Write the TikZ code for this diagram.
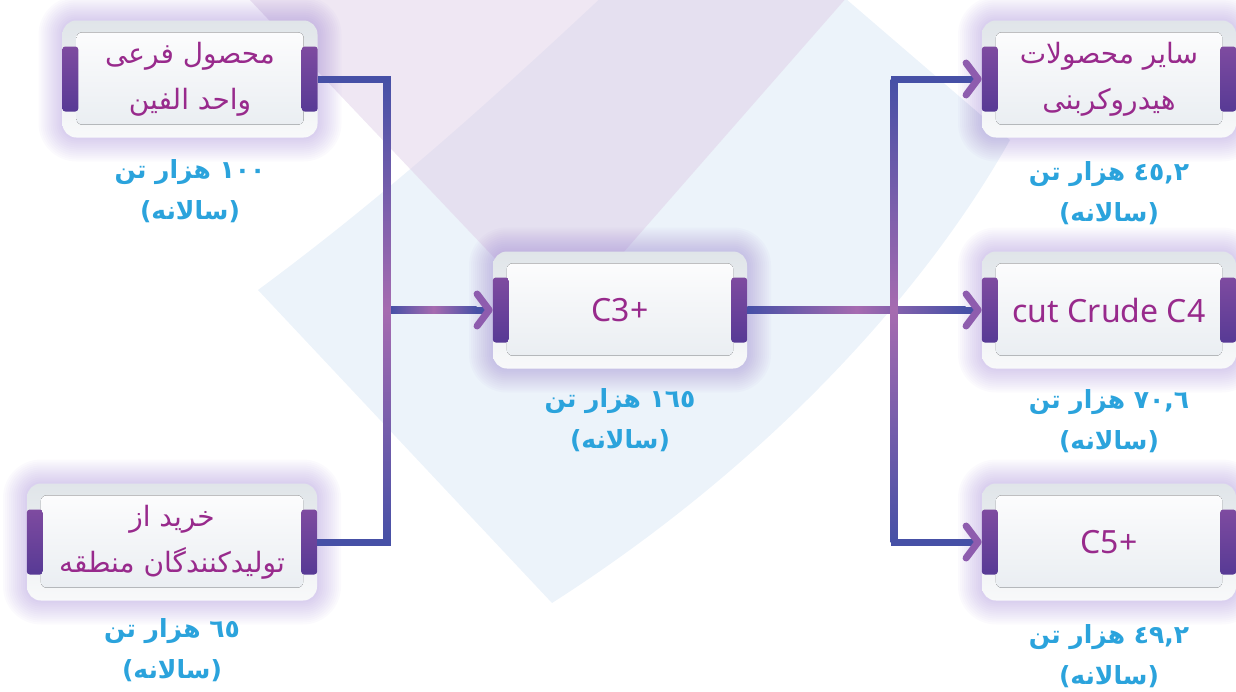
\documentclass[tikz,border=0pt]{standalone}
\usepackage{fontspec}
\setmainfont{Noto Sans}
\newfontfamily\arfont[Script=Arabic]{DejaVu Sans}
\TeXXeTstate=1
\usepackage{tikz}
\usetikzlibrary{calc,positioning,arrows.meta}

\definecolor{flowblue}{HTML}{4650A6}
\definecolor{flowpink}{HTML}{A66BB0}
\definecolor{tipc}{HTML}{8E5CAE}
\definecolor{tabtop}{HTML}{7E4BA0}
\definecolor{tabbot}{HTML}{573A95}
\definecolor{boxink}{HTML}{982A8C}
\definecolor{qtyink}{HTML}{2BA3DC}
\definecolor{glowc}{HTML}{8C6CCC}
\definecolor{bgblue}{HTML}{ECF3FA}
\definecolor{bglav}{HTML}{DFCFE7}
\definecolor{frametop}{HTML}{E0E5E9}
\definecolor{framebot}{HTML}{F8F9FA}
\definecolor{paneltop}{HTML}{FCFCFD}
\definecolor{panelbot}{HTML}{EAEEF2}

\tikzset{
	glow/.style={fill=glowc, opacity=0.032},
	boxframe/.style={rectangle, rounded corners=14pt, top color=frametop, bottom color=framebot, minimum height=117pt, inner sep=0pt},
	panel/.style={rounded corners=6pt, top color=paneltop, bottom color=panelbot},
	tab/.style={rectangle, rounded corners=3pt, top color=tabtop, bottom color=tabbot, minimum width=16pt, minimum height=65pt, inner sep=0pt},
	boxtext/.style={text=boxink, font=\arfont\fontsize{28}{46}\selectfont, align=center, inner sep=0pt},
	latintext/.style={text=boxink, font=\fontsize{32}{38}\selectfont, inner sep=0pt},
	qty/.style={text=qtyink, font=\arfont\bfseries\fontsize{25}{41}\selectfont, align=center, inner sep=0pt},
	flow/.style={draw=flowblue, line width=7pt},
	flowtip/.style={-{Straight Barb[round, length=12pt, width=32pt, color=tipc]}},
}

\newcommand{\procbox}[5]{% name, centre, width, text style, text
	\foreach \g in {2,4,...,24}
		\fill[glow, rounded corners=14pt+\g pt] ($(#2)+(-#3/2-\g,-58.5-\g)$) rectangle ($(#2)+(#3/2+\g,58.5+\g)$);
	\node[boxframe, minimum width=#3pt] (#1) at (#2) {};
	\fill[panel] ($(#1.south west)+(14,-13)$) rectangle ($(#1.north east)+(-14,12)$);
	\node[tab] (#1-l) at ($(#1.west)+(8,0)$) {};
	\node[tab] (#1-r) at ($(#1.east)+(-8,0)$) {};
	\node[#4] (#1-t) at (#1) {#5};
}

\begin{document}
\begin{tikzpicture}[x=1pt,y=-1pt]
	\useasboundingbox (0,0) rectangle (1236,691);
	
	%BACKGROUND
	\fill[bgblue] (258,290) .. controls (400,185) and (520,75) .. (678,-75) -- (760,-75) -- (1010,140) .. controls (920,300) and (760,470) .. (552,603) -- cycle;
	\fill[bglav, opacity=0.5] (231,-20) -- (559,326) -- (862,-20) -- cycle;
	
	%BOXES
	\procbox{A}{190,79}{255}{boxtext}{\beginR محصول فرعی\endR\\\beginR واحد الفین\endR}
	\procbox{B}{172,542}{290}{boxtext}{\beginR خرید از\endR\\\beginR تولیدکنندگان منطقه\endR}
	\procbox{C}{620,310}{254}{latintext}{C3+}
	\procbox{R1}{1109,79}{254}{boxtext}{\beginR سایر محصولات\endR\\\beginR هیدروکربنی\endR}
	\procbox{R2}{1109,310}{254}{latintext}{cut Crude C4}
	\procbox{R3}{1109,542}{254}{latintext}{C5+}
	
	%CONNECTORS
	\coordinate (jl) at (387,310);	%left junction
	\coordinate (jr) at (894,310);	%right junction
	\draw[flow] (A-r.east) -| (jl) |- (B-r.east);
	\draw[flow,flowtip] (jl) -- (C-l.west);
	\draw[flow] (C-r.east) -- (jr);
	\draw[flow,flowtip] (jr) -- (R2-l.west);
	\draw[flow,flowtip] (jr) |- (R1-l.west);
	\draw[flow,flowtip] (jr) |- (R3-l.west);
	%
	\shade[left color=flowblue, right color=flowblue, middle color=flowpink] ($(jl)+(3.5,-3.5)$) rectangle ($(C-l.west)+(-16,3.5)$);
	\shade[left color=flowblue, right color=flowblue, middle color=flowpink] ($(C-r.east)+(0,-3.5)$) rectangle ($(R2-l.west)+(-16,3.5)$);
	\shade[top color=flowblue, bottom color=flowblue, middle color=flowpink] ($(A-r.east -| jl)+(-3.5,0)$) rectangle ($(B-r.east -| jl)+(3.5,0)$);
	\shade[top color=flowblue, bottom color=flowblue, middle color=flowpink] ($(R1-l.west -| jr)+(-3.5,0)$) rectangle ($(R3-l.west -| jr)+(3.5,0)$);
	
	%QUANTITIES
	\node[qty] (A-q) at ($(A.south)+(0,53)$) {\beginR ١٠٠ هزار تن\endR\\\beginR (سالانه)\endR};
	\node[qty] (B-q) at ($(B.south)+(0,49)$) {\beginR ٦٥ هزار تن\endR\\\beginR (سالانه)\endR};
	\node[qty] (C-q) at ($(C.south)+(0,51)$) {\beginR ١٦٥ هزار تن\endR\\\beginR (سالانه)\endR};
	\node[qty] (R1-q) at ($(R1.south)+(0,55)$) {\beginR ٤٥,٢ هزار تن\endR\\\beginR (سالانه)\endR};
	\node[qty] (R2-q) at ($(R2.south)+(0,52)$) {\beginR ٧٠,٦ هزار تن\endR\\\beginR (سالانه)\endR};
	\node[qty] (R3-q) at ($(R3.south)+(0,55)$) {\beginR ٤٩,٢ هزار تن\endR\\\beginR (سالانه)\endR};
\end{tikzpicture}
\end{document}
